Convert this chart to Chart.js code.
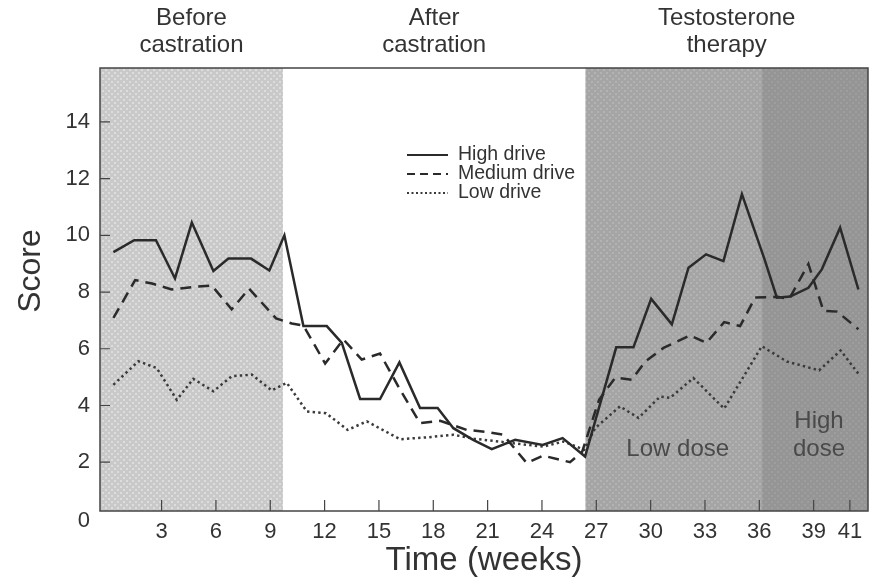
<!DOCTYPE html>
<html>
<head>
<meta charset="utf-8">
<script src="https://cdn.jsdelivr.net/npm/chart.js@4.4.1/dist/chart.umd.min.js"></script>
<style>
  html, body { margin: 0; padding: 0; background: #fff; }
  #wrap { width: 872px; height: 582px; }
</style>
</head>
<body>
<div id="wrap"><canvas id="c" width="872" height="582"></canvas></div>
<script>
// Axis ticks
const WEEK_TICKS = [3, 6, 9, 12, 15, 18, 21, 24, 27, 30, 33, 36, 39, 41];
const SCORE_TICKS = [2, 4, 6, 8, 10, 12, 14];

// High drive
const HIGH_WEEKS = [0.34, 1.49, 2.69, 3.74, 4.67, 5.86, 6.69, 7.94, 8.95, 9.78,
  10.83, 12.12, 12.95, 13.96, 15.06, 16.13, 17.27, 18.24, 19.11, 20.2, 21.23, 22.52, 24.04, 25.14, 26.38,
  28.1, 29.05, 30.03, 31.17, 32.09, 33.06, 34.02, 35.04, 36.27, 36.97, 37.7, 38.71, 39.45, 40.46, 41.47];
const HIGH_SCORES = [9.41, 9.83, 9.83, 8.48, 10.45, 8.74, 9.18, 9.18, 8.76, 10.0,
  6.8, 6.8, 6.21, 4.23, 4.23, 5.52, 3.91, 3.91, 3.2, 2.79, 2.46, 2.79, 2.61, 2.85, 2.2,
  6.05, 6.05, 7.76, 6.86, 8.86, 9.33, 9.09, 11.45, 9.19, 7.8, 7.84, 8.15, 8.8, 10.27, 8.09];

// Medium drive
const MEDIUM_WEEKS = [0.34, 1.54, 2.47, 3.56, 4.74, 5.77, 6.87, 7.83, 9.32, 10.19,
  10.83, 12.03, 13.04, 14.05, 15.06, 16.13, 17.27, 18.38, 19.85, 20.92, 21.86, 23.16, 24.07, 25.55, 26.22,
  27.15, 28.04, 28.96, 29.7, 30.71, 32.18, 33.08, 34.06, 34.94, 35.77, 36.98, 37.65, 38.71, 39.54, 40.3, 41.47];
const MEDIUM_SCORES = [7.09, 8.42, 8.3, 8.09, 8.18, 8.23, 7.39, 8.12, 7.07, 6.89,
  6.82, 5.48, 6.33, 5.62, 5.83, 4.6, 3.38, 3.46, 3.14, 3.07, 2.97, 1.97, 2.23, 2.0, 2.37,
  4.2, 4.98, 4.91, 5.55, 6.03, 6.47, 6.21, 6.94, 6.8, 7.81, 7.83, 7.76, 8.99, 7.34, 7.31, 6.69];

// Low drive
const LOW_WEEKS = [0.34, 1.72, 2.73, 3.84, 4.75, 5.86, 6.87, 7.98, 9.08, 9.91,
  11.02, 12.08, 13.27, 14.33, 16.17, 17.71, 19.11, 20.25, 22.41, 24.08, 25.19, 26.33,
  26.93, 28.31, 29.33, 30.52, 31.08, 32.36, 34.06, 36.14, 37.52, 39.3, 40.49, 41.47];
const LOW_SCORES = [4.73, 5.56, 5.32, 4.2, 4.94, 4.5, 5.03, 5.09, 4.53, 4.8,
  3.79, 3.73, 3.14, 3.44, 2.81, 2.88, 2.97, 2.83, 2.67, 2.55, 2.73, 2.44,
  3.2, 3.97, 3.56, 4.31, 4.27, 4.97, 3.89, 6.09, 5.55, 5.24, 5.94, 5.12];

// Study phases (weeks)
const WEEK_MIN = -0.4, WEEK_MAX = 42.0;
const PHASE_HEADERS = [
  { lines: ['Before', 'castration'], from: WEEK_MIN, to: 9.7 },
  { lines: ['After', 'castration'], from: 9.7, to: 26.4 },
  { lines: ['Testosterone', 'therapy'], from: 26.4, to: WEEK_MAX }
];
const DOSE_PERIODS = [
  { lines: ['Low dose'], from: 26.4, to: 36.15 },
  { lines: ['High', 'dose'], from: 36.15, to: WEEK_MAX }
];

const FONT = "'Liberation Sans', Arial, Helvetica, sans-serif";
const INK = '#2a2a2a';
const TEXT = '#333333';

function toPoints(xs, ys) { return xs.map((x, i) => ({ x: x, y: ys[i] })); }

function dotPattern(ctx, base, dot) {
  const c = document.createElement('canvas');
  c.width = 6; c.height = 6;
  const g = c.getContext('2d');
  g.fillStyle = base; g.fillRect(0, 0, 6, 6);
  g.fillStyle = dot;
  g.fillRect(0, 0, 2, 2);
  g.fillRect(3, 3, 2, 2);
  return ctx.createPattern(c, 'repeat');
}

// Shaded phase backgrounds, frame, inward ticks, headers and legend
const phaseShading = {
  id: 'phaseShading',
  beforeDatasetsDraw(chart) {
    const { ctx, chartArea: a, scales: { x } } = chart;
    const fills = [
      { from: PHASE_HEADERS[0].from, to: PHASE_HEADERS[0].to, fill: dotPattern(ctx, '#c9c9c9', '#dddddd') },
      { from: DOSE_PERIODS[0].from, to: DOSE_PERIODS[0].to, fill: dotPattern(ctx, '#a5a5a5', '#b3b3b3') },
      { from: DOSE_PERIODS[1].from, to: DOSE_PERIODS[1].to, fill: dotPattern(ctx, '#959595', '#9e9e9e') }
    ];
    ctx.save();
    ctx.beginPath(); ctx.rect(a.left, a.top, a.right - a.left, a.bottom - a.top); ctx.clip();
    fills.forEach(f => {
      const x0 = x.getPixelForValue(f.from), x1 = x.getPixelForValue(f.to);
      ctx.fillStyle = f.fill;
      ctx.fillRect(x0, a.top, x1 - x0, a.bottom - a.top);
    });
    // dose labels
    ctx.fillStyle = '#4a4a4a';
    ctx.font = '24px ' + FONT;
    ctx.textAlign = 'center'; ctx.textBaseline = 'middle';
    DOSE_PERIODS.forEach(p => {
      const cx = (x.getPixelForValue(p.from) + x.getPixelForValue(p.to)) / 2 + 4;
      const y0 = p.lines.length === 1 ? 449 : 421;
      p.lines.forEach((t, i) => ctx.fillText(t, cx, y0 + i * 28));
    });
    ctx.restore();
  },
  afterDraw(chart) {
    const { ctx, chartArea: a, scales: { x, y } } = chart;
    ctx.save();
    // frame
    ctx.strokeStyle = '#444'; ctx.lineWidth = 1.5;
    ctx.strokeRect(a.left, a.top, a.right - a.left, a.bottom - a.top);
    // inward tick marks
    ctx.lineWidth = 1.2;
    ctx.beginPath();
    x.ticks.forEach(t => { const px = x.getPixelForValue(t.value); ctx.moveTo(px, a.bottom); ctx.lineTo(px, a.bottom - 11); });
    y.ticks.forEach(t => { const py = y.getPixelForValue(t.value); ctx.moveTo(a.left, py); ctx.lineTo(a.left + 10, py); });
    ctx.stroke();
    // origin label
    ctx.fillStyle = TEXT;
    ctx.font = '22px ' + FONT;
    ctx.textAlign = 'right'; ctx.textBaseline = 'middle';
    ctx.fillText('0', a.left - 10, y.getPixelForValue(0) + 2);
    // phase headers
    ctx.textAlign = 'center';
    ctx.font = '24px ' + FONT;
    PHASE_HEADERS.forEach(p => {
      const cx = (x.getPixelForValue(p.from) + x.getPixelForValue(p.to)) / 2;
      p.lines.forEach((t, i) => ctx.fillText(t, cx, 18 + i * 27));
    });
    // y-axis title
    ctx.save();
    ctx.translate(31, 271);
    ctx.rotate(-Math.PI / 2);
    ctx.font = '32px ' + FONT;
    ctx.fillText('Score', 0, 0);
    ctx.restore();
    // legend
    ctx.font = '19.5px ' + FONT;
    ctx.textAlign = 'left';
    chart.data.datasets.forEach((ds, i) => {
      const ly = 155 + i * 19;
      ctx.strokeStyle = ds.borderColor; ctx.lineWidth = 2.2;
      ctx.setLineDash(ds.legendDash);
      ctx.beginPath(); ctx.moveTo(407, ly); ctx.lineTo(448, ly); ctx.stroke();
      ctx.setLineDash([]);
      ctx.fillStyle = TEXT;
      ctx.fillText(ds.label, 458, ly);
    });
    ctx.restore();
  }
};

new Chart(document.getElementById('c'), {
  type: 'line',
  data: {
    datasets: [
      { label: 'High drive', data: toPoints(HIGH_WEEKS, HIGH_SCORES), borderColor: INK, borderWidth: 2.5, borderDash: [], legendDash: [] },
      { label: 'Medium drive', data: toPoints(MEDIUM_WEEKS, MEDIUM_SCORES), borderColor: INK, borderWidth: 2.5, borderDash: [11, 7], legendDash: [8, 5] },
      { label: 'Low drive', data: toPoints(LOW_WEEKS, LOW_SCORES), borderColor: '#3a3a3a', borderWidth: 2.5, borderDash: [2.4, 3.2], legendDash: [2, 2.5] }
    ]
  },
  options: {
    responsive: false,
    animation: false,
    devicePixelRatio: 1,
    layout: { padding: { top: 68, right: 4, left: 0, bottom: 0 } },
    elements: { point: { radius: 0 }, line: { tension: 0, fill: false } },
    plugins: { legend: { display: false }, tooltip: { enabled: false } },
    scales: {
      x: {
        type: 'linear', min: WEEK_MIN, max: WEEK_MAX,
        afterBuildTicks: s => { s.ticks = WEEK_TICKS.map(v => ({ value: v })); },
        afterFit: s => { s.height = 71; },
        grid: { display: false, drawTicks: false },
        border: { display: false },
        ticks: { font: { size: 22, family: FONT }, color: TEXT, padding: 8, maxRotation: 0, autoSkip: false },
        title: { display: true, text: 'Time (weeks)', font: { size: 33, family: FONT, lineHeight: 1.1 }, color: TEXT, padding: 3 }
      },
      y: {
        type: 'linear', min: 0.28, max: 15.9,
        afterBuildTicks: s => { s.ticks = SCORE_TICKS.map(v => ({ value: v })); },
        afterFit: s => { s.width = 100; },
        grid: { display: false, drawTicks: false },
        border: { display: false },
        ticks: { font: { size: 22, family: FONT }, color: TEXT, padding: 10 }
      }
    }
  },
  plugins: [phaseShading]
});
</script>
</body>
</html>
